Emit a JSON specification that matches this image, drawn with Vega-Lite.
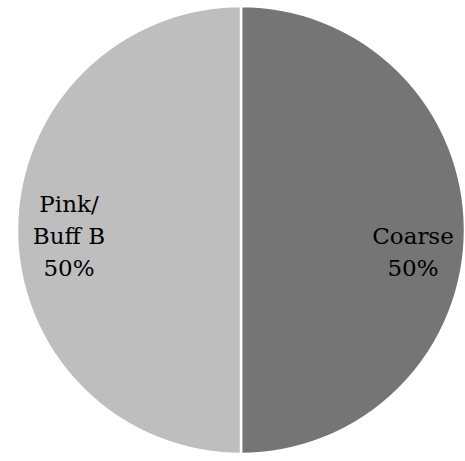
{
  "$schema": "https://vega.github.io/schema/vega-lite/v6.json",
  "width": 448,
  "height": 448,
  "autosize": "none",
  "padding": {"left": 17, "top": 6, "right": 0, "bottom": 7},
  "background": "white",
  "view": {"stroke": null},
  "data": {
    "values": [
      {"category": "Coarse", "value": 50, "label": "\nCoarse\n50%"},
      {"category": "Pink/Buff B", "value": 50, "label": "Pink/\nBuff B\n50%"}
    ]
  },
  "encoding": {
    "theta": {"field": "value", "type": "quantitative", "stack": true},
    "order": {"field": "category", "sort": "ascending"}
  },
  "layer": [
    {
      "mark": {"type": "arc", "radius": 224, "stroke": "white", "strokeWidth": 2.5},
      "encoding": {
        "color": {
          "field": "category",
          "type": "nominal",
          "scale": {"domain": ["Coarse", "Pink/Buff B"], "range": ["#757575", "#bebebe"]},
          "legend": null
        }
      }
    },
    {
      "mark": {
        "type": "text",
        "radius": 172,
        "dy": -18,
        "align": "center",
        "baseline": "alphabetic",
        "lineBreak": "\n",
        "lineHeight": 32,
        "font": "DejaVu Serif",
        "fontSize": 23,
        "color": "black"
      },
      "encoding": {
        "text": {"field": "label", "type": "nominal"}
      }
    }
  ]
}
